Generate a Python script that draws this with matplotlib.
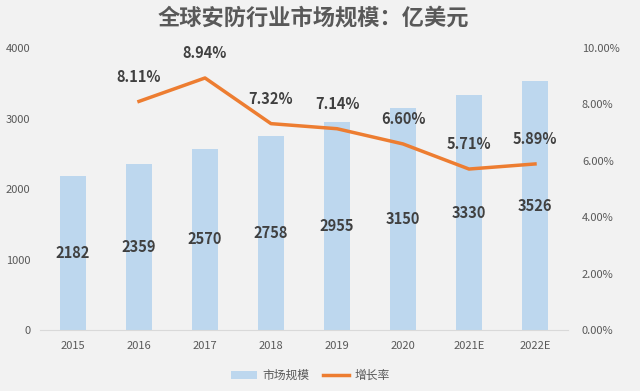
import matplotlib
matplotlib.use("Agg")
import matplotlib.pyplot as plt
import numpy as np
from matplotlib.ticker import FuncFormatter

plt.rcParams['font.family'] = ['Noto Sans CJK SC', 'DejaVu Sans']

years = ["2015", "2016", "2017", "2018", "2019", "2020", "2021E", "2022E"]
market = [2182, 2359, 2570, 2758, 2955, 3150, 3330, 3526]
growth_years = ["2016", "2017", "2018", "2019", "2020", "2021E", "2022E"]
growth = [8.11, 8.94, 7.32, 7.14, 6.60, 5.71, 5.89]

bg = "#f2f2f2"
fig = plt.figure(figsize=(6.4, 3.91), dpi=100, facecolor=bg)
ax = fig.add_axes([0.0625, 0.156, 0.825, 0.721])
ax.set_facecolor(bg)
x = np.arange(len(years))
ax.bar(x, market, width=0.39, color="#bdd7ee", label="市场规模", zorder=2)
for xi, v in zip(x, market):
    ax.text(xi, v / 2, f"{v}", ha="center", va="center", fontsize=10.5,
            fontweight="bold", color="#404040", zorder=5)
ax.set_ylim(0, 4000)
ax.set_yticks([0, 1000, 2000, 3000, 4000])
ax.set_xlim(-0.5, len(years) - 0.5)
ax.set_xticks(x)
ax.set_xticklabels(years)
for s in ["top", "right", "left"]:
    ax.spines[s].set_visible(False)
ax.spines["bottom"].set_color("#d9d9d9")
ax.tick_params(axis="both", length=0, labelsize=8, colors="#595959")
ax.tick_params(axis="x", pad=8)
ax.tick_params(axis="y", pad=7)

ax2 = ax.twinx()
gx = [years.index(g) for g in growth_years]
ax2.plot(gx, growth, color="#ed7d31", lw=2.5, label="增长率", zorder=3)
for xi, v in zip(gx, growth):
    ax2.annotate(f"{v:.2f}%", (xi, v), xytext=(0, 12), textcoords="offset points",
                 ha="center", va="bottom", fontsize=10.5, fontweight="bold", color="#404040")
ax2.set_ylim(0, 10)
ax2.set_yticks([0, 2, 4, 6, 8, 10])
ax2.yaxis.set_major_formatter(FuncFormatter(lambda v, p: f"{v:.2f}%"))
for s in ["top", "right", "left", "bottom"]:
    ax2.spines[s].set_visible(False)
ax2.tick_params(axis="y", length=0, labelsize=8, colors="#595959", pad=10)

fig.text(0.49, 0.955, "全球安防行业市场规模：亿美元", ha="center", va="center",
         fontsize=16, fontweight="bold", color="#595959")

h1, l1 = ax.get_legend_handles_labels()
h2, l2 = ax2.get_legend_handles_labels()
fig.legend(h1 + h2, l1 + l2, loc="center", bbox_to_anchor=(0.485, 0.04), ncol=2,
           frameon=False, fontsize=8.5, labelcolor="#595959", handlelength=2.2,
           columnspacing=1.2, handletextpad=0.4)

fig.savefig("out.png", dpi=100, facecolor=bg)
